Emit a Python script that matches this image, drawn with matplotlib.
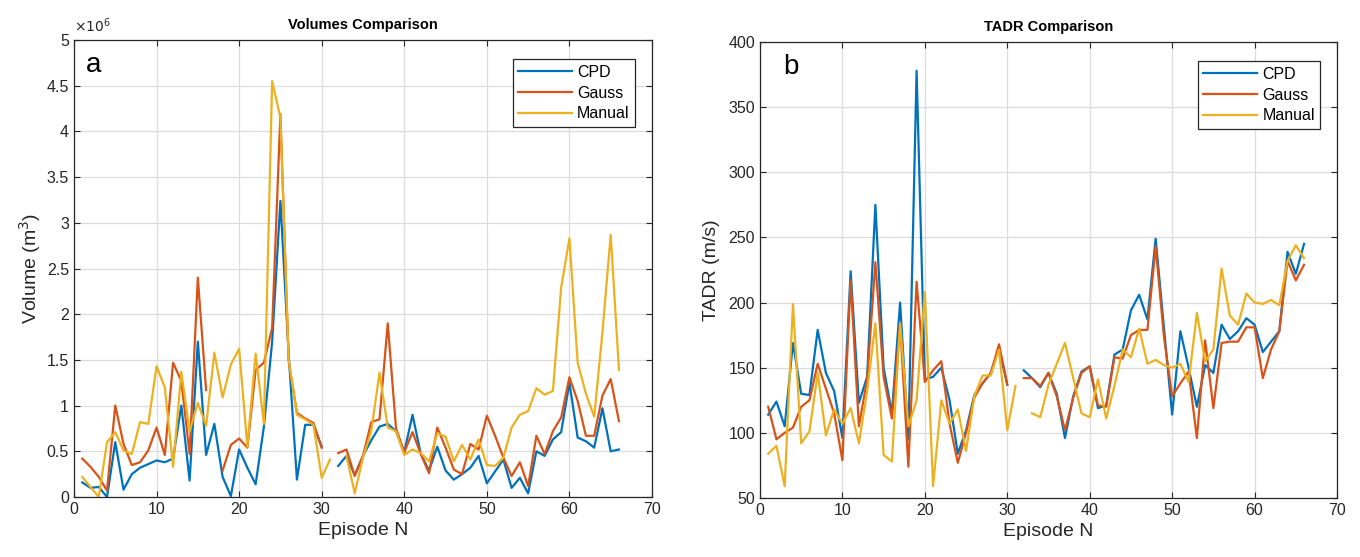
import numpy as np
import matplotlib
matplotlib.use('Agg')
import matplotlib.pyplot as plt

plt.rcParams['font.family'] = ['Liberation Sans', 'DejaVu Sans']

nan = np.nan
episodes = np.arange(1, 67)

# volumes in units of 1e6 m3
vol_cpd = [0.16, 0.10, 0.11, 0.0, 0.60, 0.08, 0.25, 0.32, 0.36, 0.40,
           0.38, 0.42, 1.00, 0.18, 1.70, 0.46, 0.80, 0.22, 0.01, 0.52,
           0.32, 0.14, 0.77, 1.70, 3.24, 1.56, 0.19, 0.79, 0.79, 0.55,
           nan, 0.34, 0.45, 0.24, 0.45, 0.62, 0.77, 0.80, 0.72, 0.49,
           0.90, 0.47, 0.29, 0.55, 0.29, 0.19, 0.25, 0.32, 0.45, 0.15,
           0.28, 0.41, 0.10, 0.21, 0.04, 0.50, 0.45, 0.63, 0.71, 1.25,
           0.65, 0.61, 0.54, 0.97, 0.50, 0.52]
vol_gauss = [0.42, 0.33, 0.22, 0.07, 1.00, 0.58, 0.35, 0.38, 0.51, 0.76,
             0.46, 1.47, 1.27, 0.47, 2.40, 1.17, nan, 0.29, 0.57, 0.64,
             0.54, 1.39, 1.47, 1.85, 4.19, 1.49, 0.92, 0.86, 0.81, 0.54,
             nan, 0.48, 0.52, 0.23, 0.45, 0.82, 0.85, 1.90, 0.75, 0.49,
             0.71, 0.47, 0.26, 0.76, 0.54, 0.30, 0.25, 0.58, 0.52, 0.89,
             0.67, 0.43, 0.23, 0.38, 0.12, 0.67, 0.47, 0.72, 0.87, 1.31,
             1.05, 0.67, 0.67, 1.11, 1.29, 0.83]
vol_manual = [0.22, 0.11, 0.0, 0.60, 0.71, 0.51, 0.47, 0.82, 0.80, 1.43,
              1.20, 0.33, 1.37, 0.72, 1.03, 0.78, 1.58, 1.09, 1.45, 1.62,
              0.55, 1.57, 0.80, 4.55, 4.15, 1.50, 0.90, 0.85, 0.79, 0.21,
              0.41, nan, 0.45, 0.04, 0.43, 0.72, 1.36, 0.76, 0.72, 0.46,
              0.52, 0.48, 0.39, 0.70, 0.66, 0.39, 0.57, 0.41, 0.63, 0.35,
              0.34, 0.43, 0.76, 0.90, 0.94, 1.19, 1.12, 1.16, 2.29, 2.83,
              1.47, 1.13, 0.88, 1.80, 2.87, 1.39]

# TADR in m/s
tadr_cpd = [114, 124, 105, 169, 130, 129, 179, 146, 132, 96,
            224, 123, 143, 275, 150, 115, 200, 95, 378, 141,
            143, 150, 125, 84, 102, 129, 138, 146, 165, 137,
            nan, 148, 142, 135, 146, 130, 96, 128, 147, 151,
            119, 121, 160, 164, 194, 206, 187, 249, 181, 114,
            178, 150, 120, 152, 146, 183, 172, 178, 188, 183,
            162, 170, 178, 239, 222, 245]
tadr_gauss = [120, 95, 100, 104, 120, 125, 153, 134, 115, 79,
              217, 105, 141, 231, 143, 111, 184, 74, 216, 139,
              148, 155, 107, 77, 100, 127, 138, 146, 168, 137,
              nan, 142, 142, 136, 146, 128, 102, 127, 146, 151,
              121, 120, 158, 157, 175, 179, 179, 243, 174, 128,
              138, 147, 96, 171, 119, 169, 170, 170, 181, 181,
              142, 164, 178, 232, 217, 229]
tadr_manual = [84, 90, 59, 199, 92, 101, 146, 98, 118, 107,
               119, 92, 132, 184, 83, 78, 184, 105, 125, 208,
               59, 125, 107, 118, 86, 128, 144, 144, 164, 102,
               136, nan, 115, 112, 137, 153, 169, 142, 115, 112,
               141, 111, 136, 164, 158, 180, 153, 156, 152, 150,
               153, 139, 192, 155, 164, 226, 190, 183, 207, 200,
               199, 202, 198, 232, 244, 234]

series_names = ['CPD', 'Gauss', 'Manual']
colors = ['#0072BD', '#D95319', '#EDB120']

fig = plt.figure(figsize=(13.6, 5.57), dpi=100)
ax1 = fig.add_axes([0.0544, 0.1077, 0.4250, 0.8205])
ax2 = fig.add_axes([0.5588, 0.1060, 0.4243, 0.8185])


def style_axes(ax):
    ax.set_xlim(0, 70)
    ax.set_xticks(np.arange(0, 71, 10))
    ax.grid(True, color='#DCDCDC', linewidth=0.9)
    ax.set_axisbelow(True)
    ax.tick_params(direction='in', top=True, right=True, labelsize=11.5,
                   colors='#262626', length=4)
    for s in ax.spines.values():
        s.set_color('#262626')
        s.set_linewidth(0.9)
    ax.set_xlabel('Episode N', fontsize=14, color='#262626', labelpad=4)
    leg = ax.legend(loc='upper right', fontsize=11.5, fancybox=False,
                    framealpha=1, edgecolor='#262626', borderpad=0.35,
                    handlelength=3.4, handletextpad=0.3,
                    labelspacing=0.35, bbox_to_anchor=(0.985, 0.975))
    leg.get_frame().set_linewidth(0.9)


for vals, name, c in zip([vol_cpd, vol_gauss, vol_manual], series_names, colors):
    ax1.plot(episodes, vals, color=c, lw=1.6, label=name)
ax1.set_ylim(0, 5)
ax1.set_yticks(np.arange(0, 5.01, 0.5))
ax1.yaxis.set_major_formatter(matplotlib.ticker.FormatStrFormatter('%g'))
style_axes(ax1)
ax1.set_ylabel('Volume (m$^3$)', fontsize=14, color='#262626', labelpad=3)
ax1.set_title('Volumes Comparison', fontsize=10.5, fontweight='bold', pad=8)
ax1.text(0.0, 1.012, r'$\times10^6$', transform=ax1.transAxes, fontsize=10,
         color='#262626', va='bottom', ha='left')
ax1.text(0.02, 0.945, 'a', transform=ax1.transAxes, fontsize=20, va='center')

for vals, name, c in zip([tadr_cpd, tadr_gauss, tadr_manual], series_names, colors):
    ax2.plot(episodes, vals, color=c, lw=1.6, label=name)
ax2.set_ylim(50, 400)
ax2.set_yticks(np.arange(50, 401, 50))
style_axes(ax2)
ax2.set_ylabel('TADR (m/s)', fontsize=14, color='#262626', labelpad=6)
ax2.set_title('TADR Comparison', fontsize=10.5, fontweight='bold', pad=8)
ax2.text(0.04, 0.945, 'b', transform=ax2.transAxes, fontsize=20, va='center')

fig.savefig('out.png', dpi=100)
